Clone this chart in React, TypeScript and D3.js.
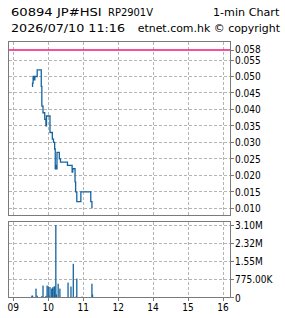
import React from "react";
import * as d3 from "d3";

const hourTicks = [9, 10, 11, 12, 14, 15, 16];
const hourLabels = ["09", "10", "11", "12", "14", "15", "16"];

const priceTicks = [0.01, 0.015, 0.02, 0.025, 0.03, 0.035, 0.04, 0.045, 0.05, 0.055];
const prevClose = 0.058;

const priceTimes = [
  "09:32", "09:33", "09:34", "09:36", "09:37", "09:41", "09:48", "09:49", "09:51", "09:54",
  "09:56", "09:57", "10:03", "10:07", "10:09", "10:11", "10:12", "10:13", "10:14", "10:15",
  "10:19", "10:21", "10:33", "10:41", "10:42", "10:46", "10:47", "10:49", "10:56", "11:13",
  "11:15",
];
const priceValues = [
  0.047, 0.048, 0.05, 0.049, 0.05, 0.052, 0.047, 0.041, 0.039, 0.037,
  0.035, 0.038, 0.033, 0.031, 0.03, 0.028, 0.022, 0.023, 0.022, 0.027,
  0.025, 0.024, 0.023, 0.021, 0.022, 0.018, 0.015, 0.012, 0.015, 0.012,
  0.01,
];

const volTimes = [
  "09:32", "09:33", "09:39", "09:41", "09:49", "09:51", "09:56", "09:58", "10:00", "10:01",
  "10:03", "10:06", "10:07", "10:08", "10:10", "10:11", "10:13", "10:14", "10:17", "10:20",
  "10:34", "10:39", "10:43", "10:48", "10:49", "10:58", "11:15", "11:16",
];
const volValues = [
  80000, 80000, 380000, 80000, 60000, 510000, 70000, 510000, 480000, 80000,
  450000, 380000, 380000, 440000, 470000, 470000, 3100000, 130000, 590000, 380000,
  640000, 470000, 1440000, 50000, 810000, 40000, 590000, 130000,
];

const volTicks = [0, 775000, 1550000, 2325000, 3100000];
const volTickLabels = ["0", "775.00K", "1.55M", "2.32M", "3.10M"];

// session index: hours since 09:00 with the 12:00-13:00 lunch collapsed
function sessionIdx(h: number, m: number): number {
  const t = h + m / 60;
  return t <= 12 ? t - 9 : t - 10;
}
function parseT(s: string): number {
  const [h, m] = s.split(":").map(Number);
  return sessionIdx(h, m);
}

const BLUE = "#15649f";
const PINK = "#f2197a";
const FRAME = "#7a7a7a";
const GRID = "#b4b4b4";
const FONT = "'DejaVu Sans', sans-serif";
const CFONT = "'DejaVu Sans Condensed', 'DejaVu Sans', sans-serif";

export default function App() {
  const W = 285;
  const H = 318;
  const L = 8.5;
  const R = 230.5;
  const pTop = 41.5;
  const pBot = 215.5;
  const vTop = 221.5;
  const vBot = 297.5;

  const x = d3.scaleLinear().domain([0, 6]).range([13.3, 223]);
  const y = d3.scaleLinear().domain([0.01, 0.055]).range([208.3, 60]);
  const yv = d3.scaleLinear().domain([0, 3100000]).range([vBot, 225]);

  const pts = priceTimes.map((t, i) => [x(parseT(t)), y(priceValues[i])] as [number, number]);
  const line = d3.line().curve(d3.curveStepAfter)(pts) || "";

  const barW = 1.3;

  return (
    <svg width={W} height={H} style={{ position: "absolute", left: 0, top: 0, background: "#fff" }}>
      <rect x={0} y={0} width={W} height={H} fill="#fff" />
      {/* header */}
      <g fontFamily={FONT} fontSize={10.5} fill="#000">
        <text x={11} y={16} textLength={90.7} lengthAdjust="spacingAndGlyphs">60894 JP#HSI</text>
        <text x={108} y={16} textLength={45} lengthAdjust="spacingAndGlyphs">RP2901V</text>
        <text x={213} y={16} textLength={66.3} lengthAdjust="spacingAndGlyphs">1-min Chart</text>
        <text x={11} y={31.5} textLength={114} lengthAdjust="spacingAndGlyphs">2026/07/10 11:16</text>
        <text x={137.7} y={31.5} textLength={142.3} lengthAdjust="spacingAndGlyphs">etnet.com.hk © copyright</text>
      </g>

      {/* price panel grid */}
      <g stroke={GRID} strokeWidth={1} strokeDasharray="3,2" shapeRendering="crispEdges">
        {hourTicks.map((h, i) => (
          <line key={"pv" + i} x1={x(sessionIdx(h, 0))} x2={x(sessionIdx(h, 0))} y1={pTop} y2={pBot} />
        ))}
        {priceTicks.map((p, i) => (
          <line key={"ph" + i} x1={L} x2={R} y1={y(p)} y2={y(p)} />
        ))}
      </g>
      <line x1={L} x2={R} y1={y(prevClose)} y2={y(prevClose)} stroke={PINK} strokeWidth={1.5} />
      <path d={line} fill="none" stroke={BLUE} strokeWidth={1.3} />
      <rect x={L} y={pTop} width={R - L} height={pBot - pTop} fill="none" stroke={FRAME} strokeWidth={1} />
      <g stroke={FRAME} shapeRendering="crispEdges">
        {priceTicks.concat([prevClose]).map((p, i) => (
          <line key={"pt" + i} x1={R} x2={R + 3} y1={y(p)} y2={y(p)} />
        ))}
      </g>
      <g fontFamily={CFONT} fontStretch="condensed" fontSize={10} fill="#000">
        {priceTicks.concat([prevClose]).map((p, i) => (
          <text key={"pl" + i} x={235} y={y(p) + (p === prevClose ? 2.6 : 4)}>
            {d3.format(".3f")(p)}
          </text>
        ))}
      </g>

      {/* volume panel */}
      <g stroke={GRID} strokeWidth={1} strokeDasharray="3,2" shapeRendering="crispEdges">
        {hourTicks.map((h, i) => (
          <line key={"vv" + i} x1={x(sessionIdx(h, 0))} x2={x(sessionIdx(h, 0))} y1={vTop} y2={vBot} />
        ))}
        {volTicks.slice(1).map((v, i) => (
          <line key={"vh" + i} x1={L} x2={R} y1={yv(v)} y2={yv(v)} />
        ))}
      </g>
      <g fill={BLUE}>
        {volTimes.map((t, i) => {
          const cx = x(parseT(t));
          return (
            <rect key={"b" + i} x={cx - barW / 2} y={yv(volValues[i])} width={barW} height={vBot - yv(volValues[i])} />
          );
        })}
      </g>
      <rect x={L} y={vTop} width={R - L} height={vBot - vTop} fill="none" stroke={FRAME} strokeWidth={1} />
      <g stroke={FRAME} shapeRendering="crispEdges">
        {volTicks.map((v, i) => (
          <line key={"vt" + i} x1={R} x2={R + 3} y1={yv(v)} y2={yv(v)} />
        ))}
        {hourTicks.map((h, i) => (
          <line key={"xt" + i} x1={x(sessionIdx(h, 0))} x2={x(sessionIdx(h, 0))} y1={vBot} y2={vBot + 3} />
        ))}
      </g>
      <g fontFamily={CFONT} fontStretch="condensed" fontSize={10} fill="#000">
        {volTicks.map((v, i) => (
          <text key={"vl" + i} x={235} y={yv(v) + 4}>
            {volTickLabels[i]}
          </text>
        ))}
        {hourTicks.map((h, i) => (
          <text key={"xl" + i} x={x(sessionIdx(h, 0))} y={311} textAnchor="middle">
            {hourLabels[i]}
          </text>
        ))}
      </g>
    </svg>
  );
}
